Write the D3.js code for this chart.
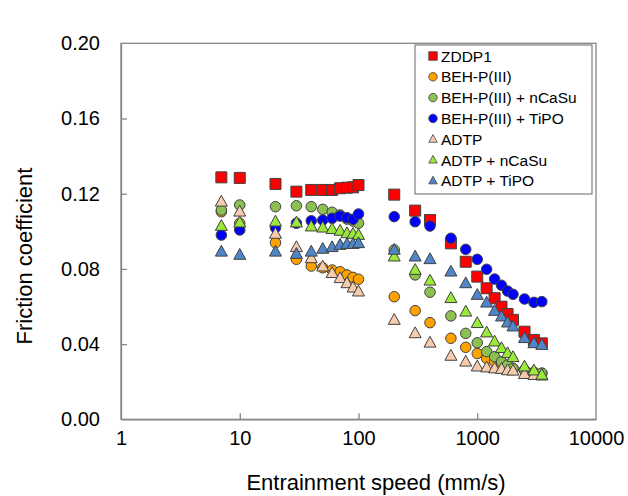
<!DOCTYPE html>
<html><head><meta charset="utf-8">
<script src="https://cdn.jsdelivr.net/npm/d3@7"></script>
<style>body{margin:0;background:#fff;} svg{display:block;font-family:"Liberation Sans",Arial,sans-serif;}</style>
</head><body><svg id="c" width="628" height="496"></svg>
<script>
const speed = [7,10,20,30,40,50,60,70,80,90,100,200,300,400,600,800,1000,1200,1400,1600,1800,2000,2500,3000,3500];
const zddp1 = [0.1287,0.1284,0.1252,0.1211,0.122,0.122,0.122,0.1229,0.1232,0.1234,0.1246,0.1195,0.111,0.106,0.0936,0.0838,0.0759,0.0697,0.0644,0.0599,0.056,0.0529,0.0466,0.0422,0.0404];
const behp = [0.1104,0.1043,0.0939,0.0851,0.0815,0.0806,0.0794,0.0785,0.0768,0.0755,0.0745,0.0652,0.0578,0.0514,0.0431,0.0383,0.035,0.0324,0.0306,0.029,0.028,0.027,0.026,0.025,0.0245];
const behpCaSu = [0.1113,0.114,0.1131,0.1136,0.1131,0.1117,0.1101,0.1087,0.1065,0.1055,0.1043,0.0901,0.0768,0.0676,0.055,0.0457,0.0407,0.036,0.0333,0.0306,0.0289,0.0271,0.0262,0.0248,0.0245];
const behpTiPO = [0.098,0.1007,0.1019,0.1043,0.1056,0.106,0.1069,0.1081,0.1072,0.1064,0.1092,0.1078,0.1051,0.1028,0.0963,0.0904,0.0851,0.0798,0.0746,0.0713,0.0682,0.0665,0.064,0.0622,0.0626];
const adtp = [0.1157,0.1104,0.0986,0.0915,0.0856,0.0812,0.0777,0.075,0.0723,0.07,0.0679,0.0528,0.0457,0.0407,0.0337,0.0306,0.028,0.0275,0.027,0.0267,0.026,0.0258,0.024,0.0235,0.0232];
const adtpCaSu = [0.1028,0.1046,0.1051,0.1046,0.1025,0.1019,0.1011,0.1002,0.0989,0.0986,0.098,0.0865,0.0794,0.0737,0.0644,0.0572,0.0511,0.0461,0.0413,0.0378,0.0351,0.033,0.028,0.0259,0.0236];
const adtpTiPO = [0.0891,0.0874,0.0891,0.0879,0.0891,0.0906,0.0915,0.0927,0.0932,0.0932,0.0936,0.0901,0.0865,0.0851,0.0785,0.0723,0.0661,0.062,0.0576,0.0546,0.0514,0.0493,0.0431,0.0404,0.0395];
const seriesNames = ["ZDDP1","BEH-P(III)","BEH-P(III) + nCaSu","BEH-P(III) + TiPO","ADTP","ADTP + nCaSu","ADTP + TiPO"];
const seriesValues = [zddp1,behp,behpCaSu,behpTiPO,adtp,adtpCaSu,adtpTiPO];
const seriesShapes = ["square","circle","circle","circle","triangle","triangle","triangle"];
const seriesColors = ["#FF0000","#FFA200","#8DC052","#0000FF","#F7CCAE","#99E83A","#4F86C9"];
const xTicks = [1,10,100,1000,10000];
const yTicks = [0,0.04,0.08,0.12,0.16,0.2];

const svg = d3.select("#c");
const L=121,R=596,T=43.3,B=419.3;
const x = d3.scaleLog().domain([1,10000]).range([L,R]);
const y = d3.scaleLinear().domain([0,0.2]).range([B,T]);
const axisCol="#868686";

// frame
svg.append("rect").attr("x",L).attr("y",T).attr("width",R-L).attr("height",B-T)
  .attr("fill","none").attr("stroke",axisCol).attr("stroke-width",1.3);

const gx = svg.append("g").attr("transform",`translate(0,${B})`)
  .call(d3.axisBottom(x).tickValues(xTicks).tickFormat(d3.format("d")).tickSizeInner(-6).tickSizeOuter(0).tickPadding(12));
const gy = svg.append("g").attr("transform",`translate(${L},0)`)
  .call(d3.axisLeft(y).tickValues(yTicks).tickFormat(d3.format(".2f")).tickSizeInner(-6).tickSizeOuter(0).tickPadding(21));
[gx,gy].forEach(g=>{
  g.select(".domain").attr("stroke",axisCol).attr("stroke-width",1.3);
  g.selectAll(".tick line").attr("stroke",axisCol).attr("stroke-width",1.3);
  g.selectAll(".tick text").attr("fill","#000").style("font-size","20px").style("font-family","'Liberation Sans',Arial,sans-serif");
});
gx.selectAll(".tick").filter(d=>d===1||d===10000).select("line").remove();
gy.selectAll(".tick").filter(d=>d===0||d===0.2).select("line").remove();

svg.append("text").attr("x",376).attr("y",482.5).attr("text-anchor","middle").attr("dominant-baseline","central")
  .style("font-size","22px").text("Entrainment speed (mm/s)");
svg.append("text").attr("transform","translate(24,256) rotate(-90)").attr("text-anchor","middle").attr("dominant-baseline","central")
  .style("font-size","22px").text("Friction coefficient");

function shapePath(shape,s){
  if(shape==="square") return `M${-s/2},${-s/2}h${s}v${s}h${-s}Z`;
  if(shape==="circle"){const r=s/2;return `M${r},0A${r},${r} 0 1,1 ${-r},0A${r},${r} 0 1,1 ${r},0Z`;}
  const h=s*0.9;return `M0,${-h*0.6}L${s/2},${h*0.4}L${-s/2},${h*0.4}Z`;
}
const sizes={square:11,circle:10.5,triangle:12};

seriesValues.forEach((vals,i)=>{
  svg.append("g").selectAll("path").data(vals.map((v,j)=>[speed[j],v])).join("path")
    .attr("transform",d=>`translate(${x(d[0])},${y(d[1])})`)
    .attr("d",shapePath(seriesShapes[i],sizes[seriesShapes[i]]))
    .attr("fill",seriesColors[i]).attr("stroke","#404040").attr("stroke-width",1);
});

// legend
const lg = svg.append("g");
lg.append("rect").attr("x",415).attr("y",45).attr("width",177).attr("height",149)
  .attr("fill","#fff").attr("stroke","#7f7f7f").attr("stroke-width",1.2);
seriesNames.forEach((n,i)=>{
  const yy=56+i*20.8;
  lg.append("path").attr("transform",`translate(433,${yy})`).attr("d",shapePath(seriesShapes[i],8.5))
    .attr("fill",seriesColors[i]).attr("stroke","#404040").attr("stroke-width",0.8);
  lg.append("text").attr("x",441).attr("y",yy).attr("dominant-baseline","central").style("font-size","15.5px").text(n);
});
</script></body></html>
